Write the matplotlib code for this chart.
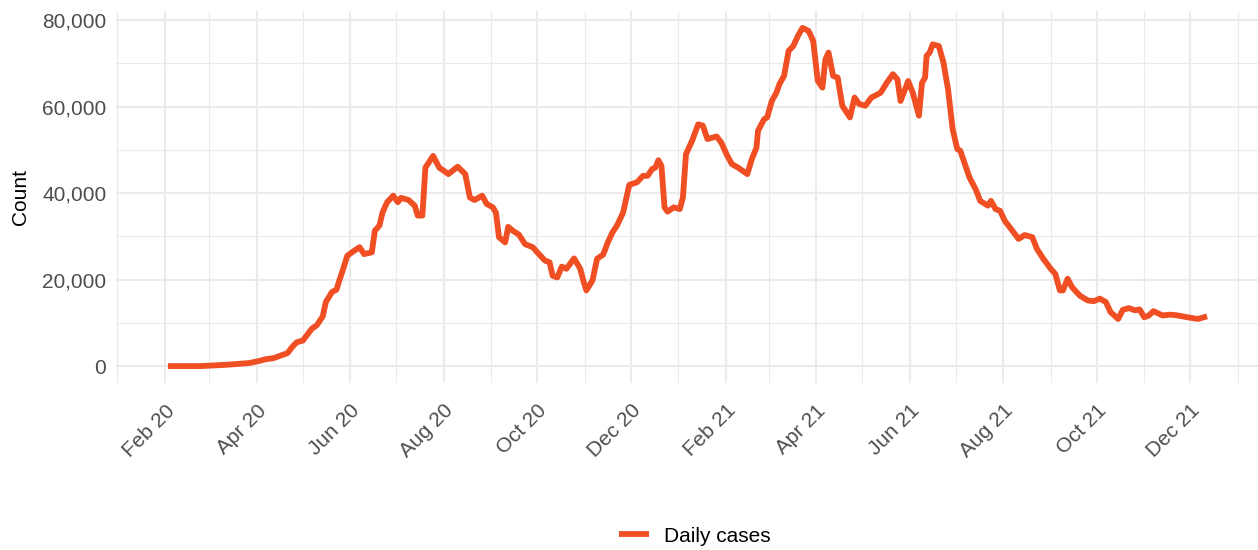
import numpy as np
import pandas as pd
import matplotlib
matplotlib.use("Agg")
import matplotlib.pyplot as plt
import matplotlib.dates as mdates
from matplotlib.ticker import FuncFormatter, MultipleLocator

plt.rcParams['font.family'] = ['Liberation Sans', 'DejaVu Sans']

# Daily cases (7-day average)
dates = [
    '2020-02-03', '2020-02-24', '2020-03-12', '2020-03-27', '2020-04-02', '2020-04-07',
    '2020-04-12', '2020-04-18', '2020-04-21', '2020-04-24', '2020-04-27', '2020-05-01',
    '2020-05-07', '2020-05-10', '2020-05-14', '2020-05-16', '2020-05-20', '2020-05-23',
    '2020-05-25', '2020-05-27', '2020-05-30', '2020-06-02', '2020-06-07', '2020-06-10',
    '2020-06-15', '2020-06-17', '2020-06-20', '2020-06-22', '2020-06-25', '2020-06-29',
    '2020-07-02', '2020-07-04', '2020-07-09', '2020-07-13', '2020-07-15', '2020-07-18',
    '2020-07-20', '2020-07-25', '2020-07-29', '2020-08-04', '2020-08-10', '2020-08-15',
    '2020-08-18', '2020-08-21', '2020-08-26', '2020-08-29', '2020-09-02', '2020-09-04',
    '2020-09-06', '2020-09-10', '2020-09-12', '2020-09-15', '2020-09-19', '2020-09-23',
    '2020-09-28', '2020-10-01', '2020-10-06', '2020-10-09', '2020-10-11', '2020-10-14',
    '2020-10-17', '2020-10-20', '2020-10-25', '2020-10-29', '2020-10-31', '2020-11-02',
    '2020-11-06', '2020-11-09', '2020-11-13', '2020-11-16', '2020-11-19', '2020-11-22',
    '2020-11-26', '2020-11-30', '2020-12-05', '2020-12-09', '2020-12-12', '2020-12-15',
    '2020-12-17', '2020-12-19', '2020-12-21', '2020-12-23', '2020-12-25', '2020-12-29',
    '2021-01-02', '2021-01-04', '2021-01-06', '2021-01-10', '2021-01-12', '2021-01-14',
    '2021-01-17', '2021-01-20', '2021-01-26', '2021-01-29', '2021-02-02', '2021-02-05',
    '2021-02-09', '2021-02-15', '2021-02-18', '2021-02-21', '2021-02-22', '2021-02-26',
    '2021-02-28', '2021-03-03', '2021-03-06', '2021-03-08', '2021-03-11', '2021-03-14',
    '2021-03-17', '2021-03-20', '2021-03-23', '2021-03-27', '2021-03-30', '2021-04-02',
    '2021-04-05', '2021-04-07', '2021-04-09', '2021-04-12', '2021-04-15', '2021-04-18',
    '2021-04-23', '2021-04-26', '2021-04-29', '2021-05-03', '2021-05-07', '2021-05-13',
    '2021-05-17', '2021-05-21', '2021-05-24', '2021-05-26', '2021-05-31', '2021-06-03',
    '2021-06-07', '2021-06-09', '2021-06-11', '2021-06-12', '2021-06-14', '2021-06-16',
    '2021-06-20', '2021-06-23', '2021-06-26', '2021-06-29', '2021-07-02', '2021-07-04',
    '2021-07-07', '2021-07-10', '2021-07-14', '2021-07-17', '2021-07-22', '2021-07-24',
    '2021-07-27', '2021-07-30', '2021-08-02', '2021-08-07', '2021-08-11', '2021-08-15',
    '2021-08-20', '2021-08-23', '2021-08-27', '2021-09-01', '2021-09-04', '2021-09-07',
    '2021-09-09', '2021-09-12', '2021-09-15', '2021-09-20', '2021-09-25', '2021-09-29',
    '2021-10-03', '2021-10-07', '2021-10-10', '2021-10-15', '2021-10-18', '2021-10-22',
    '2021-10-26', '2021-10-29', '2021-11-01', '2021-11-04', '2021-11-07', '2021-11-13',
    '2021-11-18', '2021-11-23', '2021-11-29', '2021-12-06', '2021-12-12',
]
cases = [
    0, 0, 300, 700, 1150, 1600,
    1850, 2600, 3000, 4400, 5500, 5900,
    8700, 9400, 11500, 14800, 17100, 17700,
    20000, 22100, 25500, 26300, 27500, 25900,
    26300, 31300, 32500, 35500, 37900, 39400,
    37900, 38900, 38400, 37100, 34800, 34800,
    45900, 48600, 45900, 44400, 46100, 44400,
    39000, 38400, 39400, 37500, 36700, 35500,
    29800, 28600, 32200, 31300, 30400, 28200,
    27500, 26300, 24400, 24000, 20900, 20500,
    23000, 22500, 24900, 22500, 19800, 17500,
    19800, 24800, 25800, 28600, 30900, 32500,
    35500, 41900, 42500, 44000, 44000, 45600,
    45900, 47600, 46300, 36700, 35700, 36700,
    36300, 39000, 49000, 52100, 54000, 55900,
    55600, 52500, 53100, 51700, 48600, 46700,
    45900, 44400, 47900, 50500, 54400, 57100,
    57500, 61300, 63200, 65200, 67100, 72900,
    74000, 76300, 78200, 77500, 75200, 66000,
    64400, 70900, 72500, 67100, 66700, 60200,
    57500, 62100, 60600, 60200, 62100, 63200,
    65500, 67500, 66300, 61300, 65900, 63200,
    57900, 65500, 66700, 71700, 72500, 74400,
    74000, 70200, 64000, 54800, 50200, 49800,
    46700, 43600, 40900, 38200, 37100, 38200,
    36300, 35900, 33600, 31300, 29400, 30300,
    29800, 27100, 24900, 22500, 21300, 17500,
    17500, 20200, 18200, 16300, 15200, 15000,
    15600, 14800, 12500, 10900, 13000, 13400,
    12900, 13100, 11300, 11700, 12700, 11700,
    11900, 11700, 11300, 10900, 11500,
]

df = pd.DataFrame({'date': pd.to_datetime(dates), 'cases': cases})

line_color = '#F04E23'
grid_color = '#EBEBEB'
tick_color = '#4D4D4D'

fig = plt.figure(figsize=(12.58, 5.5), dpi=100)
ax = fig.add_axes([116 / 1258, 1 - 383 / 550, 1143 / 1258, 372 / 550])

ax.plot(df['date'], df['cases'], color=line_color, lw=4.2,
        solid_joinstyle='round', solid_capstyle='butt', label='Daily cases')
ax.margins(x=0.05, y=0.05)

ax.xaxis.set_major_locator(mdates.MonthLocator(bymonth=[2, 4, 6, 8, 10, 12]))
ax.xaxis.set_minor_locator(mdates.MonthLocator(bymonth=[1, 3, 5, 7, 9, 11]))
ax.xaxis.set_major_formatter(mdates.DateFormatter('%b %y'))
ax.yaxis.set_major_locator(MultipleLocator(20000))
ax.yaxis.set_minor_locator(MultipleLocator(10000))
ax.yaxis.set_major_formatter(FuncFormatter(lambda v, p: f'{int(v):,}'))

ax.grid(which='major', color=grid_color, lw=1.5)
ax.grid(which='minor', color=grid_color, lw=0.8)
ax.set_axisbelow(True)
for s in ax.spines.values():
    s.set_visible(False)

ax.tick_params(which='both', length=0)
ax.tick_params(axis='y', labelsize=15, labelcolor=tick_color, pad=7)
ax.tick_params(axis='x', labelsize=15, labelcolor=tick_color, pad=13)
for lab in ax.get_xticklabels():
    lab.set_rotation(45)
    lab.set_ha('right')
    lab.set_va('top')
    lab.set_rotation_mode('anchor')

ax.set_ylabel('Count', fontsize=15, color='black')
ax.yaxis.set_label_coords(-0.0755, 0.5)

fig.legend(loc='center', bbox_to_anchor=(695 / 1258, 1 - 536 / 550),
           frameon=False, fontsize=15, handlelength=1.45, handletextpad=0.72)

fig.savefig('out.png', dpi=100)
